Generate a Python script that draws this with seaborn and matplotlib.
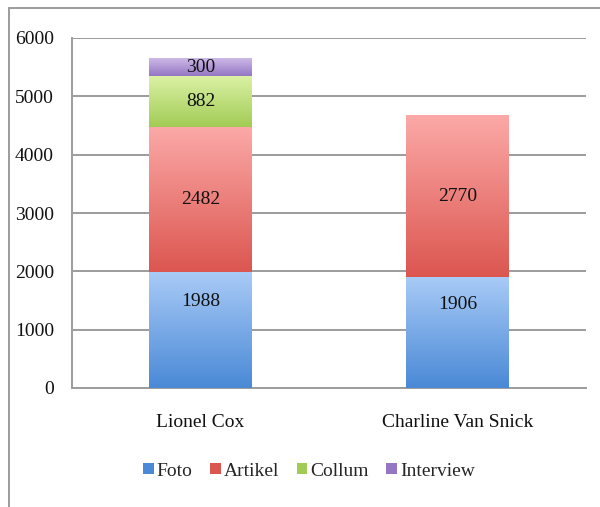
import matplotlib
matplotlib.use("Agg")
import matplotlib.pyplot as plt
from matplotlib.colors import LinearSegmentedColormap
from matplotlib.patches import Patch
from matplotlib.lines import Line2D
import numpy as np
import pandas as pd
import seaborn as sns

sns.set_theme(style="white")
plt.rcParams["font.family"] = ["Liberation Serif", "DejaVu Serif"]

# data
people = ["Lionel Cox", "Charline Van Snick"]
series = ["Foto", "Artikel", "Collum", "Interview"]
foto = [1988, 1906]
artikel = [2482, 2770]
collum = [882, 0]
interview = [300, 0]
yticks = [0, 1000, 2000, 3000, 4000, 5000, 6000]

# (top colour, bottom colour) per series, Excel-style gradient
shades = {
    "Foto": ("#a9cbf7", "#4a89d6"),
    "Artikel": ("#fba9a7", "#dc5650"),
    "Collum": ("#dcf2a6", "#a2cb55"),
    "Interview": ("#cdb9e8", "#9476c3"),
}

df = pd.DataFrame({"person": people, "Foto": foto, "Artikel": artikel,
                   "Collum": collum, "Interview": interview})

fig = plt.figure(figsize=(6.0, 5.07), dpi=100)
ax = fig.add_axes([72 / 600, 1 - 388 / 507, (586 - 72) / 600, (388 - 38) / 507])

bottom = np.zeros(len(df))
for name in series:
    top_c, bot_c = shades[name]
    sns.barplot(data=df, x="person", y=name, bottom=bottom, color=bot_c,
                width=0.4, saturation=1, ax=ax, zorder=3)
    bottom = bottom + df[name].values

# paint vertical gradients on every segment
patches = list(ax.patches)
grad = np.linspace(1, 0, 256).reshape(-1, 1)
for i, p in enumerate(patches):
    name = series[i // len(people)]
    h = p.get_height()
    if h <= 0:
        continue
    top_c, bot_c = shades[name]
    cmap = LinearSegmentedColormap.from_list(name, [bot_c, top_c])
    x0, y0 = p.get_x(), p.get_y()
    im = ax.imshow(grad, cmap=cmap, aspect="auto", zorder=3.5,
                   extent=[x0, x0 + p.get_width(), y0, y0 + h], origin="upper")
    im.set_clip_path(p)
    p.set_edgecolor("none")
    # Excel put the bottom-segment labels a bit above centre
    frac = 0.75 if name == "Foto" else 0.5
    ax.text(x0 + p.get_width() / 2, y0 + h * frac, f"{int(h)}", ha="center",
            va="center", fontsize=14, color="#111111", zorder=5)

ax.set_xlim(-0.5, 1.5)
ax.set_ylim(0, 6000)
ax.set_yticks(yticks)
ax.set_yticklabels([str(v) for v in yticks], fontsize=14)
ax.yaxis.grid(True, color="#9c9c9c", linewidth=1.4, zorder=0)
ax.set_axisbelow(True)
ax.set_xlabel("")
ax.set_ylabel("")

ax.set_xticks([0, 1])
ax.set_xticklabels(people, fontsize=14)
ax.set_xticks([-0.5, 0.5, 1.5], minor=True)
ax.tick_params(axis="x", which="major", length=0, pad=19, colors="#111111")
ax.tick_params(axis="x", which="minor", length=5, width=1.4, color="#9c9c9c")
ax.tick_params(axis="y", length=5, width=1.4, pad=8, colors="#111111")
ax.tick_params(axis="y", color="#9c9c9c")

for side in ["top", "right"]:
    ax.spines[side].set_visible(False)
for side in ["left", "bottom"]:
    ax.spines[side].set_color("#9c9c9c")
    ax.spines[side].set_linewidth(1.4)

handles = [Patch(facecolor=shades[n][1], edgecolor="none", label=n) for n in series]
fig.legend(handles=handles, loc="center", bbox_to_anchor=(0.515, 1 - 471 / 507),
           ncol=4, frameon=False, fontsize=14, handlelength=0.55,
           handleheight=0.55, handletextpad=0.15, columnspacing=0.9)

# outer chart frame (left and top edges visible)
fig.add_artist(Line2D([9 / 600, 9 / 600], [0, 1 - 8 / 507], transform=fig.transFigure,
                      color="#9c9c9c", linewidth=1.4))
fig.add_artist(Line2D([9 / 600, 1], [1 - 8 / 507, 1 - 8 / 507], transform=fig.transFigure,
                      color="#9c9c9c", linewidth=1.4))

fig.savefig("out.png", dpi=100)
